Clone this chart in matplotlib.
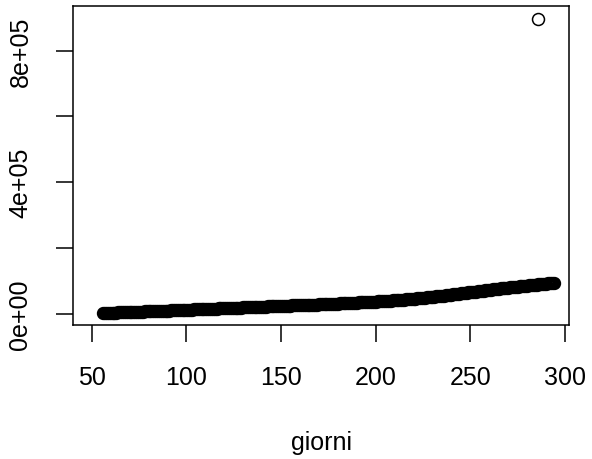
import matplotlib
matplotlib.use("Agg")
import matplotlib.pyplot as plt
import numpy as np

# ---- data ----
giorni_start = 56
giorni_end = 294
valori = [
    2000, 2200, 2400, 2700, 2900, 3100, 3300, 3500, 3800, 4000,          # 56-65
    4200, 4400, 4600, 4900, 5100, 5300, 5500, 5700, 6000, 6200,          # 66-75
    6400, 6600, 6800, 7100, 7300, 7500, 7700, 7900, 8200, 8400,          # 76-85
    8600, 8800, 9000, 9300, 9500, 9700, 9900, 10200, 10400, 10600,       # 86-95
    10900, 11100, 11400, 11600, 11800, 12100, 12300, 12600, 12800, 13000,  # 96-105
    13300, 13500, 13800, 14000, 14200, 14500, 14700, 15000, 15200, 15400,  # 106-115
    15700, 15900, 16200, 16400, 16600, 16900, 17100, 17400, 17600, 17800,  # 116-125
    18100, 18300, 18600, 18800, 19000, 19300, 19500, 19800, 20000, 20200,  # 126-135
    20500, 20700, 20900, 21200, 21400, 21600, 21800, 22100, 22300, 22500,  # 136-145
    22700, 23000, 23200, 23400, 23600, 23900, 24100, 24300, 24500, 24800,  # 146-155
    25000, 25200, 25400, 25700, 25900, 26100, 26300, 26600, 26800, 27000,  # 156-165
    27200, 27500, 27700, 27900, 28100, 28400, 28600, 28800, 29000, 29300,  # 166-175
    29500, 29800, 30100, 30400, 30800, 31100, 31400, 31700, 32000, 32300,  # 176-185
    32600, 32900, 33200, 33500, 33900, 34200, 34500, 34800, 35100, 35400,  # 186-195
    35700, 36000, 36400, 36700, 37100, 37400, 37800, 38100, 38500, 38900,  # 196-205
    39300, 39700, 40100, 40500, 40900, 41300, 41800, 42200, 42600, 43100,  # 206-215
    43600, 44100, 44600, 45100, 45600, 46100, 46700, 47200, 47800, 48300,  # 216-225
    48900, 49500, 50100, 50700, 51300, 51900, 52500, 53200, 53800, 54500,  # 226-235
    55200, 55900, 56600, 57300, 58000, 58700, 59400, 60100, 60900, 61600,  # 236-245
    62300, 63000, 63800, 64500, 65200, 66000, 66700, 67400, 68100, 68900,  # 246-255
    69600, 70300, 71000, 71800, 72500, 73200, 73900, 74600, 75300, 76000,  # 256-265
    76700, 77400, 78100, 78800, 79500, 80200, 80800, 81500, 82100, 82700,  # 266-275
    83300, 83900, 84500, 85100, 85700, 86300, 86900, 87500, 88100, 88700,  # 276-285
    89300, 89900, 90500, 91100, 91700, 92300, 92900, 93500, 94100,         # 286-294
]
outlier_giorno = [286]
outlier_valore = [895000]

x_ticks = [50, 100, 150, 200, 250, 300]
y_ticks = [0, 200000, 400000, 600000, 800000]
y_ticklabels = ["0e+00", "", "4e+05", "", "8e+05"]
x_label = "giorni"

# ---- figure ----
plt.rcParams["font.family"] = ["Liberation Sans", "DejaVu Sans"]
fig = plt.figure(figsize=(5.92, 4.60), dpi=100)
ax = fig.add_axes([72.7 / 592, 1 - 326 / 460, (569.3 - 72.7) / 592, (326 - 7) / 460])

giorni = np.arange(giorni_start, giorni_end + 1)
ax.plot(giorni, valori, linestyle="none", marker="o", markersize=7.6,
        markerfacecolor="none", markeredgecolor="black", markeredgewidth=2.0,
        snap=False)
ax.plot(outlier_giorno, outlier_valore, linestyle="none", marker="o", markersize=8.6,
        markerfacecolor="none", markeredgecolor="black", markeredgewidth=1.1,
        snap=False)

ax.set_xlim(39.96, 302.27)
ax.set_ylim(-34370, 935970)

ax.set_xticks(x_ticks)
ax.set_xticklabels([str(t) for t in x_ticks])
ax.set_yticks(y_ticks)
ax.set_yticklabels(y_ticklabels, rotation=90, va="center")

for s in ax.spines.values():
    s.set_linewidth(1.1)
    s.set_color("black")
ax.tick_params(axis="both", direction="out", length=12, width=1.1,
               labelsize=18, pad=17, colors="black")

ax.set_xlabel(x_label, fontsize=18)
ax.xaxis.set_label_coords(0.5, -0.33)
ax.xaxis.label.set_va("top")

fig.savefig("out.png", dpi=100, facecolor="white")
